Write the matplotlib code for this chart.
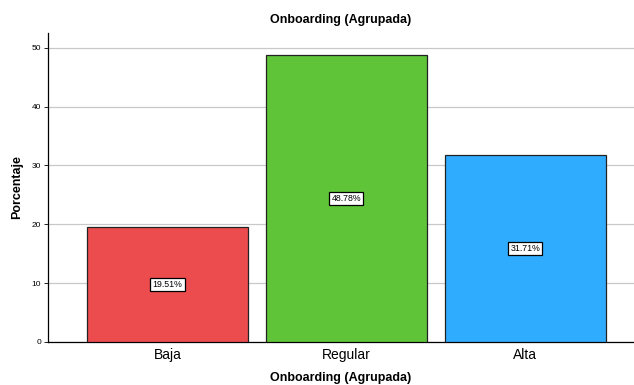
import matplotlib.pyplot as plt

# datos del gráfico
categorias = ["Baja", "Regular", "Alta"]
porcentajes = [19.51, 48.78, 31.71]
colores = ["#ED4C4E", "#5FC438", "#30ACFE"]
ticks_y = [0, 10, 20, 30, 40, 50]

plt.rcParams["font.family"] = ["Liberation Sans", "DejaVu Sans"]

fig = plt.figure(figsize=(6.34, 3.85), dpi=100)
ax = fig.add_axes([48 / 634, 1 - 342 / 385, 586 / 634, 309 / 385])

x = list(range(len(categorias)))
ax.bar(x, porcentajes, width=0.9, color=colores, edgecolor="#222222", linewidth=0.9, zorder=3)

for xi, v in zip(x, porcentajes):
    ax.text(xi, v / 2, f"{v:.2f}%", ha="center", va="center", fontsize=6.3, zorder=4,
            bbox=dict(boxstyle="square,pad=0.25", fc="white", ec="black", lw=0.9))

ax.set_xlim(-0.668, 2.609)
ax.set_ylim(0, 52.5)
ax.set_yticks(ticks_y)
ax.set_xticks(x)
ax.set_xticklabels(categorias, fontsize=10)
ax.tick_params(axis="y", labelsize=6, length=3, width=0.6, pad=2)
ax.tick_params(axis="x", length=0, pad=4)
ax.yaxis.grid(True, color="#C8C8C8", linewidth=0.9, zorder=0)

for s in ["top", "right"]:
    ax.spines[s].set_visible(False)
ax.spines["left"].set_linewidth(0.9)
ax.spines["bottom"].set_linewidth(0.9)

ax.set_ylabel("Porcentaje", fontsize=9, fontweight="bold", labelpad=6)
# título y rótulo del eje x en posiciones fijas de la figura
fig.text(341 / 634, 1 - 378 / 385, "Onboarding (Agrupada)", ha="center", va="center",
         fontsize=9, fontweight="bold")
fig.text(341 / 634, 1 - 20 / 385, "Onboarding (Agrupada)", ha="center", va="center",
         fontsize=9, fontweight="bold")

fig.savefig("out.png", dpi=100)
